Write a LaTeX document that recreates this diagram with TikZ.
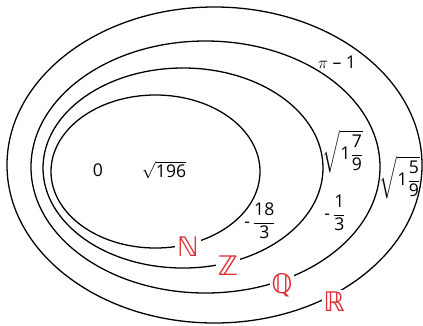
\documentclass[tikz,border=0pt]{standalone}
\usepackage{amsmath,amssymb}
\usepackage{fontspec}
\setmainfont{Open Sans}
\newfontfamily\dejavu{DejaVu Sans}
\usepackage{xcolor}
\usetikzlibrary{shapes.geometric}

\definecolor{setred}{RGB}{222,45,55}

\begin{document}
\begin{tikzpicture}[x=0.03cm, y=-0.03cm,
    set/.style={draw, ellipse, line width=1.1pt, inner sep=0pt},
    setname/.style={fill=white, text=setred, inner sep=1.5pt, font=\dejavu\fontsize{23}{25}\selectfont},
    num/.style={inner sep=0pt, font=\fontsize{15}{17}\selectfont}]
		\useasboundingbox (0,0) rectangle (423,325);

		% the four sets
		\node[set, minimum width=12.45cm, minimum height=9.48cm] (R) at (214.5,165) {};
		\node[set, minimum width=10.47cm, minimum height=7.56cm] (Q) at (205.5,167) {};
		\node[set, minimum width=8.4cm, minimum height=6cm] (Z) at (183,168) {};
		\node[set, minimum width=6.27cm, minimum height=4.59cm] (N) at (155.5,171.5) {};

		\node[setname] (nN) at (188,247) {ℕ};
		\node[setname] (nZ) at (228,266) {ℤ};
		\node[setname] (nQ) at (282,285) {ℚ};
		\node[setname] (nR) at (334,302) {ℝ};

		% elements
		\node[num] (zero) at (98,170) {0};
		\node[num] (root196) at (164,170) {$\sqrt{\text{196}}$};
		\node[num] (eighteen) at (260,221) {-\,$\dfrac{\text{18}}{\text{3}}$};
		\node[num] (third) at (335,213) {-\,$\dfrac{\text{1}}{\text{3}}$};
		\node[num] (root79) at (343,152) {$\sqrt{\text{1}\dfrac{\text{7}}{\text{9}}}$};
		\node[num] (root59) at (400,178) {$\sqrt{\text{1}\dfrac{\text{5}}{\text{9}}}$};
		\node[num] (piminus) at (337,62) {$\pi$ -- 1};
	\end{tikzpicture}
\end{document}
